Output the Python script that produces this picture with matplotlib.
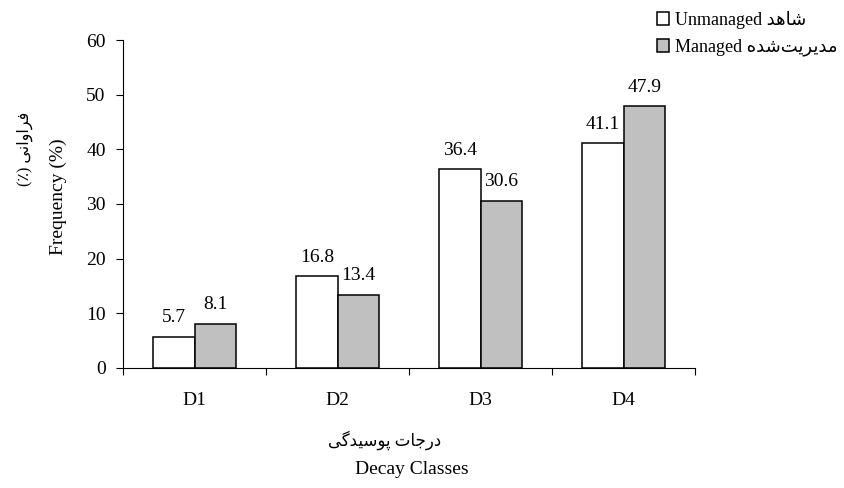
import matplotlib
matplotlib.use("Agg")
import matplotlib.pyplot as plt
import numpy as np

plt.rcParams['font.family'] = ['Liberation Serif', 'DejaVu Sans']
plt.rcParams['font.size'] = 14

# Persian words written in visual order with presentation forms (matplotlib has no shaping)
fa_unmanaged = "\uFEAA\uFEEB\uFE8E\uFEB7"                      # شاهد
fa_managed = "\uFEE9\uFEAA\uFEB7\uFE96\uFEF3\uFEAE\uFEF3\uFEAA\uFEE3"  # مدیریت‌شده
fa_freq = "(\u066A) \uFEF0\uFEE7\uFE8D\uFEED\uFE8D\uFEAE\uFED3"  # فراوانی (٪)
fa_decay = "\uFEF0\uFB94\uFEAA\uFEF4\uFEB3\uFEEE\uFB58 \uFE95\uFE8E\uFE9F\uFEAD\uFEA9"  # درجات پوسیدگی

classes = ["D1", "D2", "D3", "D4"]
unmanaged = [5.7, 16.8, 36.4, 41.1]
managed = [8.1, 13.4, 30.6, 47.9]

fig = plt.figure(figsize=(8.45, 4.88), dpi=100)
ax = fig.add_axes([0.1456, 0.246, 0.677, 0.672])

x = np.arange(len(classes))
w = 0.29
b1 = ax.bar(x - w / 2, unmanaged, w, color="white", edgecolor="black", linewidth=1.1,
            label="Unmanaged " + fa_unmanaged)
b2 = ax.bar(x + w / 2, managed, w, color="#c0c0c0", edgecolor="black", linewidth=1.1,
            label="Managed " + fa_managed)

for bars, vals in [(b1, unmanaged), (b2, managed)]:
    for bar, v in zip(bars, vals):
        ax.annotate(f"{v:.1f}", (bar.get_x() + bar.get_width() / 2, v),
                    xytext=(0, 7.5), textcoords="offset points", ha="center", va="bottom")

ax.set_xlim(-0.5, 3.5)
ax.set_ylim(0, 60)
ax.set_yticks(range(0, 61, 10))
ax.set_xticks(np.arange(-0.5, 4, 1))
ax.set_xticklabels([])
ax.set_xticks(x, minor=True)
ax.set_xticklabels(classes, minor=True)
ax.tick_params(axis="x", which="minor", length=0, pad=17)
ax.tick_params(axis="x", which="major", length=5, direction="out")
ax.tick_params(axis="y", length=5, direction="out", pad=7.5)
for s in ["top", "right"]:
    ax.spines[s].set_visible(False)

fig.text(0.455, 0.097, fa_decay, ha="center", va="center", fontsize=12)
fig.text(0.487, 0.038, "Decay Classes", ha="center", va="center")
fig.text(0.069, 0.596, "Frequency (%)", rotation=90, ha="center", va="center")
fig.text(0.030, 0.695, fa_freq, rotation=90, ha="center", va="center", fontsize=11.5)

fig.legend(loc="upper left", bbox_to_anchor=(0.758, 1.011), frameon=False, fontsize=13,
           handlelength=0.7, handleheight=0.7, handletextpad=0.3, labelspacing=0.55)

fig.savefig("out.png", dpi=100)
